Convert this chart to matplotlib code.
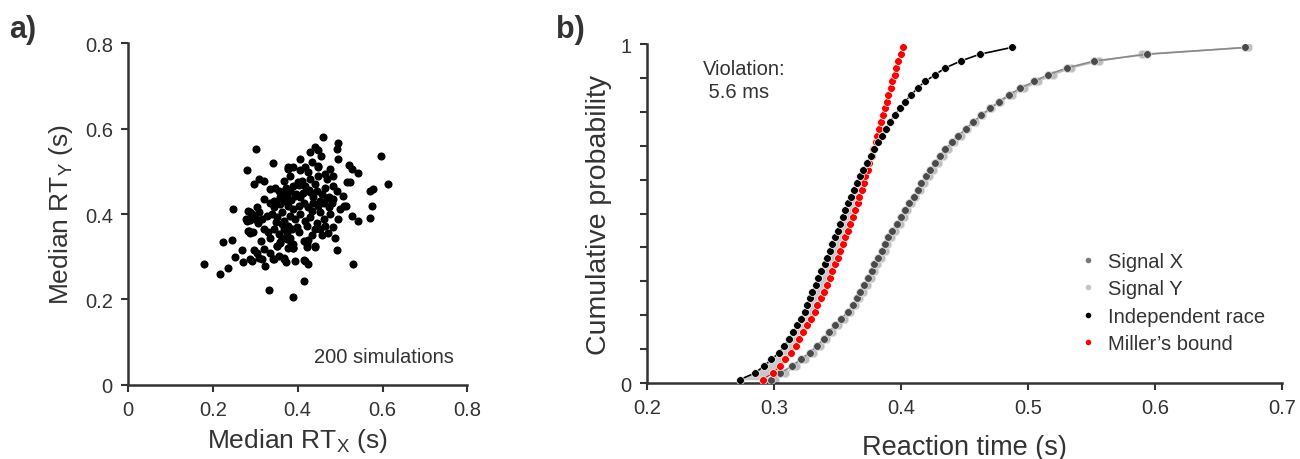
import numpy as np
import matplotlib
matplotlib.use('Agg')
import matplotlib.pyplot as plt
from matplotlib.lines import Line2D

plt.rcParams['font.family'] = ['Liberation Sans', 'DejaVu Sans']
plt.rcParams['mathtext.fontset'] = 'custom'
plt.rcParams['mathtext.rm'] = 'Liberation Sans'

### Panel a: median RTs of 200 simulations
medX = [0.180, 0.217, 0.235, 0.224, 0.245, 0.247, 0.251, 0.268, 0.272, 0.280, 0.302, 0.297, 0.309,
        0.459, 0.494, 0.492, 0.441, 0.447, 0.454, 0.494, 0.596, 0.612, 0.341, 0.376, 0.378,
        0.520, 0.527, 0.543, 0.516, 0.524, 0.571, 0.578, 0.575, 0.571, 0.543, 0.527, 0.506, 0.510,
        0.488, 0.492, 0.530, 0.484, 0.496, 0.418, 0.425, 0.394, 0.373, 0.367, 0.355, 0.341,
        0.323, 0.316, 0.332, 0.389, 0.414,
        0.418, 0.433, 0.425, 0.447, 0.406,
        0.409, 0.429, 0.449, 0.465, 0.469, 0.440, 0.417, 0.401, 0.390, 0.484, 0.492,
        0.347, 0.355, 0.363, 0.374, 0.382, 0.394, 0.406, 0.429, 0.445, 0.457, 0.473, 0.484, 0.465,
        0.335, 0.343, 0.359, 0.371, 0.378, 0.390, 0.402, 0.414, 0.425, 0.437, 0.449, 0.461, 0.473, 0.453, 0.433,
        0.288, 0.300, 0.316, 0.327, 0.339, 0.351, 0.363, 0.367, 0.382, 0.394, 0.406, 0.418, 0.429, 0.445,
        0.461, 0.476, 0.280, 0.308,
        0.284, 0.295, 0.320, 0.331, 0.343, 0.355, 0.367, 0.374, 0.386, 0.363, 0.382, 0.402, 0.441, 0.453,
        0.465, 0.335, 0.313,
        0.351, 0.359, 0.374, 0.390, 0.378, 0.414, 0.425, 0.441, 0.422, 0.296, 0.304, 0.320, 0.335,
        0.288, 0.292, 0.308, 0.345, 0.368, 0.390, 0.415, 0.422,
        0.320, 0.335, 0.320, 0.304, 0.367, 0.382, 0.390, 0.500, 0.515, 0.484, 0.476, 0.429, 0.406, 0.449,
        0.282, 0.288, 0.278, 0.288, 0.282, 0.292, 0.300, 0.307, 0.351, 0.359, 0.385, 0.390, 0.441,
        0.359, 0.371, 0.384, 0.396, 0.412, 0.437, 0.453, 0.469, 0.480, 0.348, 0.362, 0.376, 0.398,
        0.421, 0.433, 0.457, 0.471, 0.344, 0.372, 0.404, 0.426]
medY = [0.283, 0.259, 0.273, 0.335, 0.340, 0.412, 0.300, 0.316, 0.287, 0.502, 0.552, 0.470, 0.482,
        0.580, 0.566, 0.552, 0.556, 0.551, 0.537, 0.529, 0.537, 0.470, 0.519, 0.509, 0.505,
        0.515, 0.505, 0.497, 0.474, 0.474, 0.455, 0.459, 0.420, 0.390, 0.384, 0.396, 0.443, 0.420,
        0.345, 0.316, 0.284, 0.369, 0.388, 0.291, 0.283, 0.291, 0.287, 0.295, 0.302, 0.295,
        0.279, 0.295, 0.223, 0.205, 0.244,
        0.509, 0.521, 0.498, 0.509, 0.502,
        0.478, 0.482, 0.490, 0.494, 0.482, 0.470, 0.466, 0.474, 0.466, 0.466, 0.455,
        0.462, 0.455, 0.451, 0.447, 0.455, 0.443, 0.439, 0.451, 0.455, 0.447, 0.439, 0.435, 0.462,
        0.427, 0.416, 0.423, 0.431, 0.420, 0.412, 0.420, 0.427, 0.416, 0.427, 0.420, 0.427, 0.416, 0.404, 0.408,
        0.404, 0.392, 0.388, 0.396, 0.400, 0.392, 0.404, 0.384, 0.396, 0.388, 0.400, 0.384, 0.392, 0.380,
        0.388, 0.400, 0.384, 0.404,
        0.361, 0.357, 0.365, 0.357, 0.365, 0.353, 0.365, 0.357, 0.365, 0.345, 0.345, 0.357, 0.365, 0.365,
        0.373, 0.345, 0.338,
        0.326, 0.334, 0.341, 0.330, 0.320, 0.338, 0.340, 0.322, 0.324, 0.316, 0.310, 0.318, 0.310,
        0.295, 0.291, 0.298, 0.295, 0.297, 0.321, 0.293, 0.329,
        0.478, 0.459, 0.435, 0.416, 0.478, 0.490, 0.509, 0.412, 0.420, 0.490, 0.505, 0.545, 0.529, 0.513,
        0.360, 0.356, 0.388, 0.385, 0.407, 0.400, 0.388, 0.380, 0.325, 0.333, 0.329, 0.321, 0.325,
        0.440, 0.437, 0.433, 0.446, 0.449, 0.440, 0.430, 0.437, 0.425, 0.381, 0.377, 0.372, 0.370,
        0.373, 0.352, 0.350, 0.356, 0.431, 0.460, 0.468, 0.456]

### Panel b: quantile curves (cumulative probability levels)
probLevels = [0.01, 0.03, 0.05, 0.07, 0.09, 0.11, 0.13, 0.15, 0.17, 0.19,
              0.21, 0.23, 0.25, 0.27, 0.29, 0.31, 0.33, 0.35, 0.37, 0.39,
              0.41, 0.43, 0.45, 0.47, 0.49, 0.51, 0.53, 0.55, 0.57, 0.59,
              0.61, 0.63, 0.65, 0.67, 0.69, 0.71, 0.73, 0.75, 0.77, 0.79,
              0.81, 0.83, 0.85, 0.87, 0.89, 0.91, 0.93, 0.95, 0.97, 0.99]
rtSignalX = [0.298, 0.305, 0.314, 0.321, 0.328, 0.334, 0.339, 0.343, 0.348, 0.353,
             0.358, 0.362, 0.365, 0.368, 0.371, 0.374, 0.377, 0.379, 0.382, 0.385,
             0.387, 0.390, 0.393, 0.397, 0.400, 0.403, 0.406, 0.410, 0.413, 0.416,
             0.420, 0.423, 0.427, 0.431, 0.435, 0.440, 0.445, 0.451, 0.457, 0.463,
             0.470, 0.477, 0.485, 0.494, 0.505, 0.516, 0.531, 0.552, 0.594, 0.671]
rtSignalY = [0.301, 0.309, 0.317, 0.324, 0.331, 0.336, 0.341, 0.346, 0.350, 0.355,
             0.360, 0.364, 0.367, 0.370, 0.373, 0.376, 0.379, 0.381, 0.384, 0.387,
             0.389, 0.392, 0.395, 0.399, 0.402, 0.405, 0.408, 0.411, 0.415, 0.418,
             0.422, 0.425, 0.429, 0.433, 0.437, 0.442, 0.447, 0.452, 0.458, 0.464,
             0.471, 0.478, 0.487, 0.497, 0.508, 0.520, 0.534, 0.556, 0.590, 0.673]
rtRace = [0.273, 0.285, 0.292, 0.298, 0.304, 0.308, 0.312, 0.315, 0.318, 0.321,
          0.324, 0.326, 0.328, 0.330, 0.333, 0.335, 0.337, 0.340, 0.342, 0.344,
          0.346, 0.348, 0.350, 0.352, 0.354, 0.356, 0.358, 0.361, 0.363, 0.365,
          0.368, 0.370, 0.373, 0.376, 0.379, 0.382, 0.385, 0.388, 0.391, 0.395,
          0.399, 0.403, 0.408, 0.413, 0.419, 0.427, 0.435, 0.447, 0.462, 0.487]
rtMiller = [0.291, 0.299, 0.305, 0.309, 0.313, 0.317, 0.320, 0.323, 0.326, 0.329,
            0.332, 0.334, 0.337, 0.339, 0.342, 0.344, 0.346, 0.348, 0.350, 0.352,
            0.354, 0.356, 0.358, 0.360, 0.362, 0.364, 0.366, 0.367, 0.369, 0.371,
            0.372, 0.374, 0.375, 0.377, 0.378, 0.380, 0.381, 0.383, 0.384, 0.386,
            0.387, 0.389, 0.390, 0.392, 0.393, 0.395, 0.396, 0.398, 0.400, 0.4016]
legendLabels = ['Signal X', 'Signal Y', 'Independent race', "Miller\u2019s bound"]

txtCol = '#333333'
fig = plt.figure(figsize=(13, 4.6), dpi=100)

def styleAxis(ax):
    for side in ['top', 'right']:
        ax.spines[side].set_visible(False)
    for side in ['left', 'bottom']:
        ax.spines[side].set_linewidth(1.8)
        ax.spines[side].set_color(txtCol)
    ax.tick_params(direction='out', length=5, width=1.5, color=txtCol,
                   labelcolor=txtCol, labelsize=14.5, pad=6)

### a) scatter
ax1 = fig.add_axes([0.0985, 0.161, 0.261, 0.743])
ax1.scatter(medX, medY, s=34, color='black', linewidths=0, zorder=3)
ax1.set_xlim(0, 0.8)
ax1.set_ylim(0, 0.8)
ticksA = [0, 0.2, 0.4, 0.6, 0.8]
ax1.set_xticks(ticksA)
ax1.set_xticklabels(['0', '0.2', '0.4', '0.6', '0.8'])
ax1.set_yticks(ticksA)
ax1.set_yticklabels(['0', '0.2', '0.4', '0.6', '0.8'])
styleAxis(ax1)
ax1.set_xlabel('Median RT$_\\mathregular{X}$ (s)', fontsize=19, color=txtCol, labelpad=5)
ax1.set_ylabel('Median RT$_\\mathregular{Y}$ (s)', fontsize=19, color=txtCol, labelpad=7)
ax1.text(0.769, 0.054, '200 simulations', ha='right', va='baseline', fontsize=14.5, color=txtCol)
fig.text(0.007, 0.918, 'a)', fontsize=22, fontweight='bold', color=txtCol)

### b) CDFs
ax2 = fig.add_axes([0.4977, 0.165, 0.4885, 0.737])
rX = np.array(rtRace)
mX = np.array(rtMiller)
ax2.fill_betweenx(probLevels, rX, mX, where=rX < mX, interpolate=True, color='#c8c8c8', lw=0, zorder=1)
ax2.plot(rtSignalY, probLevels, '-o', color='#bdbdbd', lw=1.2, ms=6, mec='#e0e0e0', mew=0.6, zorder=2)
ax2.plot(rtSignalX, probLevels, '-o', color='#8a8a8a', mfc='#4a4a4a', lw=1.2, ms=5.6, mec='#dddddd', mew=0.6, zorder=3)
ax2.plot(rtMiller, probLevels, '-o', color='red', lw=0.8, ms=5.6, mec='white', mew=0.5, zorder=4)
ax2.plot(rtRace, probLevels, '-o', color='black', lw=1.2, ms=5.6, mec='white', mew=0.5, zorder=5)
ax2.set_xlim(0.2, 0.7)
ax2.set_ylim(0, 1)
ax2.set_xticks([0.2, 0.3, 0.4, 0.5, 0.6, 0.7])
ax2.set_xticklabels(['0.2', '0.3', '0.4', '0.5', '0.6', '0.7'])
yt = np.arange(0, 11) / 10
ax2.set_yticks(yt)
ax2.set_yticklabels(['0'] + [''] * 9 + ['1'])
styleAxis(ax2)
ax2.set_xlabel('Reaction time (s)', fontsize=19.5, color=txtCol, labelpad=12)
ax2.set_ylabel('Cumulative probability', fontsize=20.5, color=txtCol, labelpad=6)
ax2.text(0.244, 0.957, 'Violation:\n 5.6 ms', ha='left', va='top', fontsize=14.5, color=txtCol, linespacing=1.3)
fig.text(0.428, 0.918, 'b)', fontsize=22, fontweight='bold', color=txtCol)

handles = [Line2D([], [], ls='none', marker='o', ms=4, color=c, mec='none')
           for c in ['#777777', '#c4c4c4', 'black', 'red']]
ax2.legend(handles, legendLabels, loc='upper left', bbox_to_anchor=(1080 / 1300, 1 - 253 / 460),
           bbox_transform=fig.transFigure, frameon=False, fontsize=14.5, handlelength=0.8,
           handletextpad=0.6, labelspacing=0.42, borderpad=0, borderaxespad=0, labelcolor=txtCol)

plt.savefig('out.png', dpi=100)
